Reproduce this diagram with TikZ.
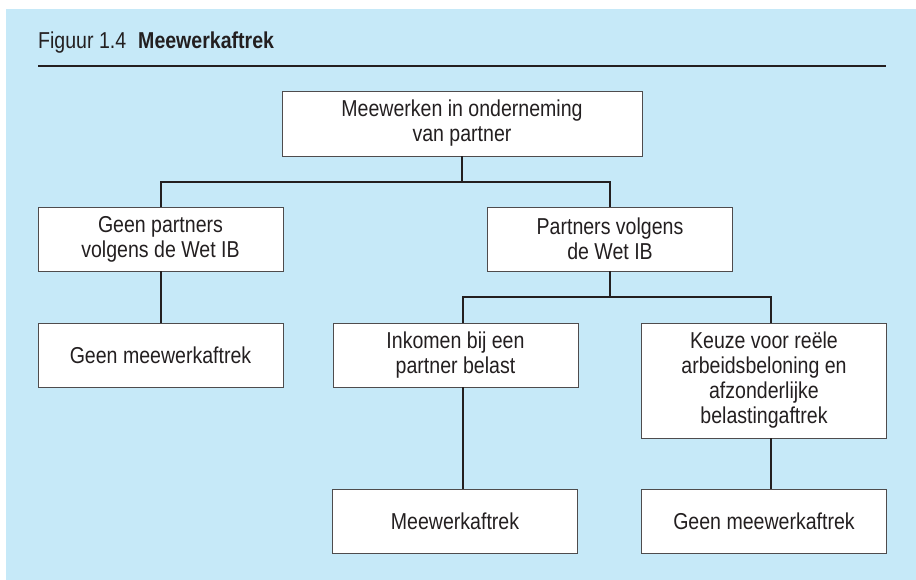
\documentclass[tikz,border=0pt]{standalone}
\usepackage{fontspec}
\setmainfont{Liberation Sans}[FakeStretch=0.85]
\definecolor{figblue}{RGB}{198,233,248}
\definecolor{inkgray}{RGB}{35,31,32}
\tikzset{
  box/.style={draw=inkgray!80, fill=white, line width=0.9pt, minimum width=245pt,
    minimum height=64pt, align=center, inner sep=0pt, text=inkgray,
    font=\fontsize{23}{25}\selectfont},
  conn/.style={draw=inkgray, line width=2pt}
}

\begin{document}
\begin{tikzpicture}[x=1pt, y=-1pt]
\useasboundingbox (0, 0) rectangle (916, 580);
\fill [figblue] (6, 9) rectangle (916, 580);
\node [anchor=base west, inner sep=0pt, text=inkgray, font=\fontsize{23}{25}\selectfont] (title) at (38, 49) {Figuur 1.4\hspace{12pt}\textbf{Meewerkaftrek}};
\draw [inkgray, line width=2pt] (38, 66) -- (886, 66);

\node [box, minimum width=360pt, minimum height=65pt] (top) at (462, 123.5) {Meewerken in onderneming\\van partner};
\node [box] (geenpartners) at (160.5, 239) {Geen partners\\volgens de Wet IB};
\node [box] (partners) at (610, 239) {Partners volgens\\de Wet IB};
\node [box] (geenaftrekl) at (160.5, 355) {Geen meewerkaftrek};
\node [box] (inkomen) at (455.5, 355) {Inkomen bij een\\partner belast};
\node [box, minimum height=115pt] (keuze) at (764, 380.5) {Keuze voor reële\\arbeidsbeloning en\\afzonderlijke\\belastingaftrek};
\node [box] (aftrek) at (455, 521) {Meewerkaftrek};
\node [box] (geenaftrekr) at (764, 521) {Geen meewerkaftrek};

\coordinate (split1) at (462, 182);
\coordinate (split2) at (610, 297);
\draw [conn] (top.south) -- (split1) -| (geenpartners.north);
\draw [conn] (split1) -| (partners.north);
\draw [conn] (geenpartners.south) -- (geenaftrekl.north);
\draw [conn] (partners.south) -- (split2) -| ([xshift=7.5pt]inkomen.north);
\draw [conn] (split2) -| ([xshift=7pt]keuze.north);
\draw [conn] ([xshift=7.5pt]inkomen.south) -- ([xshift=8pt]aftrek.north);
\draw [conn] ([xshift=7pt]keuze.south) -- ([xshift=7pt]geenaftrekr.north);

\end{tikzpicture}
\end{document}
